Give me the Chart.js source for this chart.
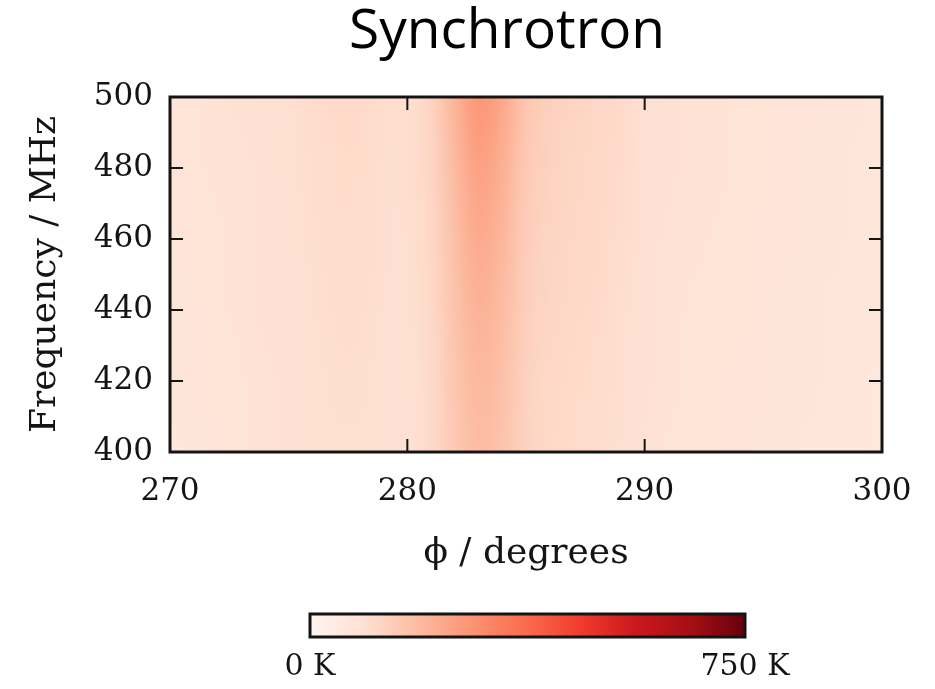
<!DOCTYPE html>
<html>
<head>
<meta charset="utf-8">
<script src="https://cdn.jsdelivr.net/npm/chart.js@4.4.1/dist/chart.umd.min.js"></script>
<style>
  html, body { margin: 0; padding: 0; background: #fff; overflow: hidden; }
  #wrap { position: relative; width: 935px; height: 689px; overflow: hidden; }
  #main { position: absolute; left: 0; top: 0; }
  #cbar { position: absolute; left: 0; top: 590px; }
</style>
</head>
<body>
<div id="wrap">
  <canvas id="main" width="935" height="600"></canvas>
  <canvas id="cbar" width="935" height="99"></canvas>
</div>
<script>
// grid nodes: longitude (deg) and frequency rows (MHz), top row first
const phi = [270, 271, 272, 273, 274, 275, 276, 277, 278, 279, 280,
             281, 282, 283, 284, 285, 286, 287, 288, 289, 290,
             291, 292, 293, 294, 295, 296, 297, 298, 299, 300];
const freqs = [500, 480, 460, 440, 420, 400];

// brightness temperature (K) along phi for each frequency row
const t500 = [76, 80, 84, 88, 92, 96, 103, 108, 108, 102, 100, 122, 205, 275, 235, 160, 134, 124, 117, 108, 96, 91, 87, 84, 81, 78, 76, 74, 72, 70, 68];
const t480 = [75, 79, 83, 87, 91, 95, 102, 107, 107, 100, 98, 118, 190, 250, 215, 150, 128, 120, 114, 106, 94, 89, 86, 83, 80, 77, 75, 73, 71, 69, 67];
const t460 = [73, 77, 81, 85, 89, 93, 99, 104, 104, 98, 96, 114, 178, 228, 198, 142, 123, 116, 111, 103, 92, 87, 84, 81, 78, 76, 74, 72, 70, 68, 66];
const t440 = [72, 76, 80, 84, 88, 92, 97, 101, 101, 96, 94, 112, 168, 210, 185, 136, 119, 112, 108, 100, 90, 85, 82, 79, 77, 75, 73, 71, 69, 67, 65];
const t420 = [70, 74, 78, 82, 86, 90, 95, 99, 99, 94, 93, 110, 160, 195, 175, 130, 114, 109, 105, 98, 88, 83, 80, 78, 76, 74, 72, 70, 68, 66, 64];
const t400 = [68, 72, 76, 80, 84, 88, 93, 97, 97, 93, 92, 108, 154, 184, 166, 126, 111, 106, 102, 96, 86, 82, 79, 77, 75, 73, 71, 69, 67, 65, 63];
const tempRows = [t500, t480, t460, t440, t420, t400];

const phiTicks = [270, 280, 290, 300];
const freqTicks = [400, 420, 440, 460, 480, 500];
const cbarTicks = [0, 750];
const tMin = 0, tMax = 750;

// matplotlib "Reds"
const reds = ['#fff5f0', '#fee0d2', '#fcbba1', '#fc9272', '#fb6a4a',
              '#ef3b2c', '#cb181d', '#a50f15', '#67000d'];

const serif = 'DejaVu Serif';
const ink = '#141414';

function hexRgb(h) {
  return [1, 3, 5].map(i => parseInt(h.slice(i, i + 2), 16));
}

function colorAt(t) {
  let f = (t - tMin) / (tMax - tMin);
  f = Math.min(1, Math.max(0, f)) * (reds.length - 1);
  const i = Math.min(reds.length - 2, Math.floor(f));
  const a = hexRgb(reds[i]), b = hexRgb(reds[i + 1]);
  const w = f - i;
  return a.map((v, k) => Math.round(v + (b[k] - v) * w));
}

// temperature map, one pixel per node, stretched over the axes with smoothing
const heatmap = {
  id: 'heatmap',
  beforeDatasetsDraw(chart) {
    const {ctx, chartArea: a, scales: {x, y}} = chart;
    const off = document.createElement('canvas');
    off.width = phi.length;
    off.height = freqs.length;
    const octx = off.getContext('2d');
    const img = octx.createImageData(off.width, off.height);
    tempRows.forEach((row, j) => row.forEach((t, i) => {
      const c = colorAt(t);
      const k = (j * off.width + i) * 4;
      img.data[k] = c[0];
      img.data[k + 1] = c[1];
      img.data[k + 2] = c[2];
      img.data[k + 3] = 255;
    }));
    octx.putImageData(img, 0, 0);

    const dx = (phi[1] - phi[0]) / 2;
    const dy = (freqs[0] - freqs[1]) / 2;
    const x0 = x.getPixelForValue(phi[0] - dx);
    const x1 = x.getPixelForValue(phi[phi.length - 1] + dx);
    const y0 = y.getPixelForValue(freqs[0] + dy);
    const y1 = y.getPixelForValue(freqs[freqs.length - 1] - dy);

    ctx.save();
    ctx.beginPath();
    ctx.rect(a.left, a.top, a.right - a.left, a.bottom - a.top);
    ctx.clip();
    ctx.imageSmoothingEnabled = true;
    ctx.imageSmoothingQuality = 'high';
    ctx.drawImage(off, x0, y0, x1 - x0, y1 - y0);
    ctx.restore();
  }
};

// box round the plot with inward ticks on every side
const frame = {
  id: 'frame',
  afterDraw(chart) {
    const {ctx, chartArea: a, scales: {x, y}} = chart;
    const len = 13;
    ctx.save();
    ctx.strokeStyle = ink;
    ctx.lineWidth = 2;
    ctx.beginPath();
    x.ticks.forEach(t => {
      const px = x.getPixelForValue(t.value);
      if (px <= a.left + 1 || px >= a.right - 1) return;
      ctx.moveTo(px, a.bottom); ctx.lineTo(px, a.bottom - len);
      ctx.moveTo(px, a.top); ctx.lineTo(px, a.top + len);
    });
    y.ticks.forEach(t => {
      const py = y.getPixelForValue(t.value);
      if (py <= a.top + 1 || py >= a.bottom - 1) return;
      ctx.moveTo(a.left, py); ctx.lineTo(a.left + len, py);
      ctx.moveTo(a.right, py); ctx.lineTo(a.right - len, py);
    });
    ctx.stroke();
    ctx.lineWidth = 3;
    ctx.strokeRect(a.left, a.top, a.right - a.left, a.bottom - a.top);
    ctx.restore();
  }
};

// heading sits a little left of the plot centre
const heading = {
  id: 'heading',
  afterDraw(chart, args, opts) {
    const {ctx, chartArea: a} = chart;
    ctx.save();
    ctx.font = '55px "Open Sans"';
    ctx.fillStyle = '#000';
    ctx.textAlign = 'center';
    ctx.textBaseline = 'alphabetic';
    ctx.fillText(opts.text, (a.left + a.right) / 2 + opts.shift, opts.baseline);
    ctx.restore();
  }
};

const colorbar = {
  id: 'colorbar',
  beforeDatasetsDraw(chart) {
    const {ctx, chartArea: a} = chart;
    const g = ctx.createLinearGradient(a.left, 0, a.right, 0);
    reds.forEach((c, i) => g.addColorStop(i / (reds.length - 1), c));
    ctx.save();
    ctx.fillStyle = g;
    ctx.fillRect(a.left, a.top, a.right - a.left, a.bottom - a.top);
    ctx.strokeStyle = ink;
    ctx.lineWidth = 3;
    ctx.strokeRect(a.left, a.top, a.right - a.left, a.bottom - a.top);
    ctx.restore();
  }
};

const tickFont = {family: serif, size: 31};

new Chart(document.getElementById('main'), {
  type: 'scatter',
  data: {datasets: []},
  options: {
    responsive: false,
    animation: false,
    layout: {padding: {left: 0, right: 53, top: 97, bottom: 0}},
    plugins: {
      legend: {display: false},
      tooltip: {enabled: false},
      heading: {text: 'Synchrotron', shift: -19, baseline: 48}
    },
    scales: {
      x: {
        type: 'linear',
        min: 270,
        max: 300,
        afterBuildTicks: s => { s.ticks = phiTicks.map(v => ({value: v})); },
        afterFit: s => { s.height = 148; },
        grid: {display: false, drawTicks: false},
        border: {display: false},
        ticks: {font: tickFont, color: ink, padding: 21, maxRotation: 0, autoSkip: false},
        title: {
          display: true,
          text: 'ϕ / degrees',
          color: ink,
          font: {family: serif, size: 36},
          padding: {top: 0, bottom: 25}
        }
      },
      y: {
        type: 'linear',
        min: 400,
        max: 500,
        afterBuildTicks: s => { s.ticks = freqTicks.map(v => ({value: v})); },
        afterFit: s => { s.width = 170; },
        grid: {display: false, drawTicks: false},
        border: {display: false},
        ticks: {font: tickFont, color: ink, padding: 17, autoSkip: false},
        title: {
          display: true,
          text: 'Frequency / MHz',
          color: ink,
          font: {family: serif, size: 36},
          padding: {top: 24, bottom: 0}
        }
      }
    }
  },
  plugins: [heatmap, frame, heading]
});

new Chart(document.getElementById('cbar'), {
  type: 'scatter',
  data: {datasets: []},
  options: {
    responsive: false,
    animation: false,
    layout: {padding: {left: 310, right: 190, top: 24, bottom: 0}},
    plugins: {legend: {display: false}, tooltip: {enabled: false}},
    scales: {
      x: {
        type: 'linear',
        min: tMin,
        max: tMax,
        afterBuildTicks: s => { s.ticks = cbarTicks.map(v => ({value: v})); },
        afterFit: s => { s.height = 52; },
        grid: {display: false, drawTicks: false},
        border: {display: false},
        ticks: {
          font: {family: serif, size: 30},
          color: ink,
          padding: 12,
          maxRotation: 0,
          autoSkip: false,
          callback: v => v + ' K'
        }
      },
      y: {display: false, min: 0, max: 1}
    }
  },
  plugins: [colorbar]
});
</script>
</body>
</html>
